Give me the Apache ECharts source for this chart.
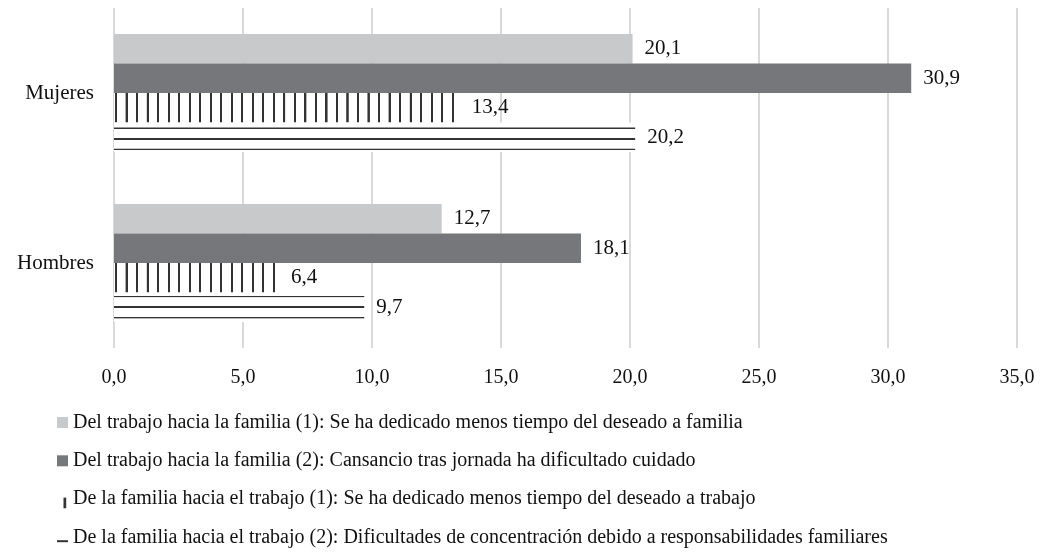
<!DOCTYPE html>
<html>
<head>
<meta charset="utf-8">
<script src="https://cdn.jsdelivr.net/npm/echarts@6/dist/echarts.min.js"></script>
<style>
  html, body { margin: 0; padding: 0; background: #fff; }
  #main { width: 1043px; height: 552px; }
</style>
</head>
<body>
<div id="main"></div>
<script>
var categories = ['Mujeres', 'Hombres'];
var seriesNames = [
    'Del trabajo hacia la familia (1): Se ha dedicado menos tiempo del deseado a familia',
    'Del trabajo hacia la familia (2): Cansancio tras jornada ha dificultado cuidado',
    'De la familia hacia el trabajo (1): Se ha dedicado menos tiempo del deseado a trabajo',
    'De la familia hacia el trabajo (2): Dificultades de concentración debido a responsabilidades familiares'
];
var trabajoFamilia1 = [20.1, 12.7];
var trabajoFamilia2 = [30.9, 18.1];
var familiaTrabajo1 = [13.4, 6.4];
var familiaTrabajo2 = [20.2, 9.7];

var fontFam = '"Liberation Serif", "Times New Roman", serif';

// stripe canvases, drawn at 10x and scaled down by the pattern so the period can be fractional
function stripes(vertical) {
    var c = document.createElement('canvas');
    c.width = vertical ? 1052 : 100;
    c.height = vertical ? 100 : 1052;
    var ctx = c.getContext('2d');
    ctx.fillStyle = '#fff';
    ctx.fillRect(0, 0, c.width, c.height);
    ctx.fillStyle = '#333';
    for (var k = 0; k < 10; k++) {
        if (vertical) ctx.fillRect(k * 105.2, 0, 21, c.height);
        else ctx.fillRect(0, k * 105.2, c.width, 16);
    }
    return c;
}
var vPattern = { image: stripes(true), repeat: 'repeat', x: 115, y: 0, scaleX: 0.1, scaleY: 0.1 };
var hPattern = { image: stripes(false), repeat: 'repeat', x: 0, y: 127.5, scaleX: 0.1, scaleY: 0.1 };

function fmt(v) {
    return v.toFixed(1).replace('.', ',');
}

var myChart = echarts.init(document.getElementById('main'), null, { renderer: 'canvas' });

function barSeries(name, data, color) {
    return {
        name: name,
        type: 'bar',
        data: data,
        barWidth: 29.5,
        barGap: '0%',
        itemStyle: { color: color },
        label: {
            show: true,
            position: 'right',
            distance: 12,
            color: '#111',
            fontFamily: fontFam,
            fontSize: 21,
            formatter: function (p) { return fmt(p.value); }
        }
    };
}

// legend icons share one 11x21 box (the bare moveTo points fix the box)
var iconBox = 'path://M0,0 M11,21 ';

option = {
    animation: false,
    textStyle: { fontFamily: fontFam },
    grid: { left: 114, right: 26, top: 8, bottom: 204 },
    xAxis: {
        type: 'value',
        min: 0,
        max: 35,
        interval: 5,
        axisLine: { show: false },
        axisTick: { show: false },
        splitLine: { lineStyle: { color: '#d9d9d9', width: 2 } },
        axisLabel: {
            margin: 20,
            color: '#111',
            fontFamily: fontFam,
            fontSize: 20,
            formatter: fmt
        }
    },
    yAxis: {
        type: 'category',
        data: categories,
        inverse: true,
        axisLine: { show: false },
        axisTick: { show: false },
        axisLabel: {
            margin: 20,
            color: '#111',
            fontFamily: fontFam,
            fontSize: 21
        }
    },
    legend: {
        orient: 'vertical',
        left: 57,
        top: 412,
        padding: 0,
        itemWidth: 11,
        itemHeight: 21,
        itemGap: 17.3,
        textStyle: { color: '#111', fontFamily: fontFam, fontSize: 20, lineHeight: 21 },
        data: [
            { name: seriesNames[0], icon: iconBox + 'M0,5h11v11h-11z', itemStyle: { color: '#c8c9cb' } },
            { name: seriesNames[1], icon: iconBox + 'M0,5h11v11h-11z', itemStyle: { color: '#76777b' } },
            { name: seriesNames[2], icon: iconBox + 'M6.5,9h2.7v10.7h-2.7z', itemStyle: { color: '#333' } },
            { name: seriesNames[3], icon: iconBox + 'M0,13.3h11v2h-11z', itemStyle: { color: '#333' } }
        ]
    },
    series: [
        barSeries(seriesNames[0], trabajoFamilia1, '#c8c9cb'),
        barSeries(seriesNames[1], trabajoFamilia2, '#76777b'),
        barSeries(seriesNames[2], familiaTrabajo1, vPattern),
        barSeries(seriesNames[3], familiaTrabajo2, hPattern)
    ]
};

myChart.setOption(option);
</script>
</body>
</html>
